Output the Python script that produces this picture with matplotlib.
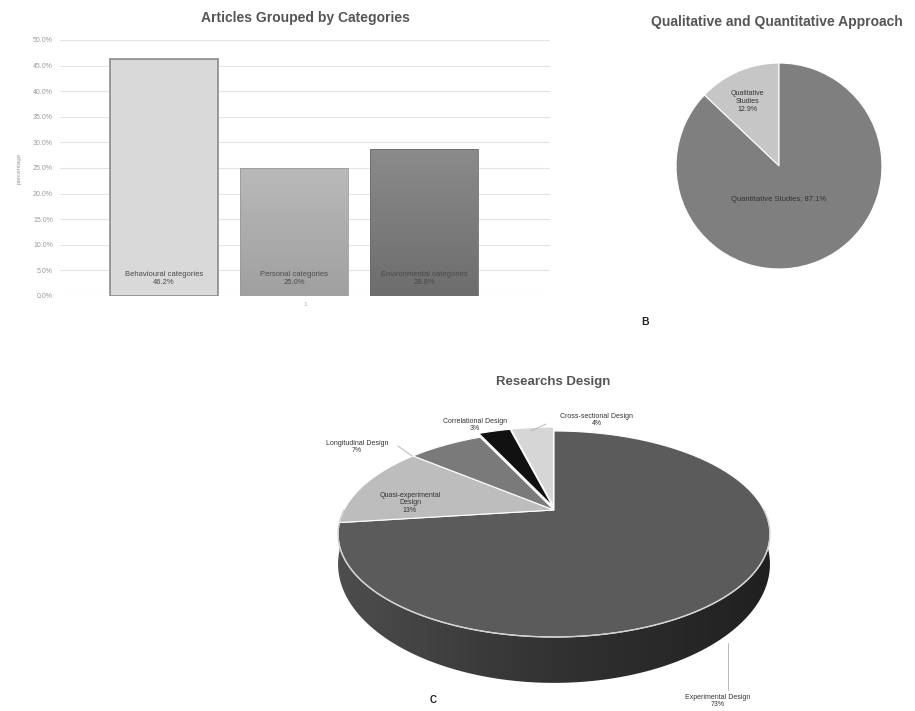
import numpy as np
import matplotlib
matplotlib.use("Agg")
import matplotlib.pyplot as plt
from matplotlib.colors import LinearSegmentedColormap

plt.rcParams["font.family"] = ["Liberation Sans", "DejaVu Sans"]

# --- datos ---
bar_categories = ["Behavioural categories", "Personal categories", "Environmental categories"]
bar_values = [46.2, 25.0, 28.8]
bar_ticks = [0, 5, 10, 15, 20, 25, 30, 35, 40, 45, 50]

approach_labels = ["Qualitative\nStudies", "Quantitative Studies;"]
approach_values = [12.9, 87.1]

design_labels = ["Experimental Design", "Quasi-experimental\nDesign", "Longitudinal Design",
                 "Correlational Design", "Cross-sectional Design"]
design_values = [73, 13, 7, 3, 4]

W, H = 915, 711


def box(x0, y0, x1, y1):
    # caja en pixeles -> coordenadas de figura
    return [x0 / W, 1 - y1 / H, (x1 - x0) / W, (y1 - y0) / H]


fig = plt.figure(figsize=(W / 100, H / 100), dpi=100)

# ---------------- A: barras ----------------
ax = fig.add_axes(box(60, 40, 550, 296))
xs = np.arange(len(bar_values))
bars = ax.bar(xs, bar_values, width=0.83, color="#d9d9d9", zorder=2)
bar_grads = [("#d9d9d9", "#d9d9d9"), ("#a0a0a0", "#b9b9b9"), ("#6d6d6d", "#8b8b8b")]
bar_edges = ["#8a8a8a", "#9a9a9a", "#6a6a6a"]
for b, (c0, c1), ec in zip(bars, bar_grads, bar_edges):
    x0 = b.get_x()
    cmap = LinearSegmentedColormap.from_list("g", [c0, c1])
    grad = np.linspace(0, 1, 100).reshape(-1, 1)
    im = ax.imshow(grad, extent=[x0, x0 + b.get_width(), 0, b.get_height()], origin="lower",
                   aspect="auto", cmap=cmap, zorder=2.5)
    im.set_clip_path(b)
    b.set_edgecolor(ec)
    b.set_linewidth(1.2 if ec == "#8a8a8a" else 0.6)
    b.set_zorder(3)
    b.set_facecolor("none")

for x, name, v in zip(xs, bar_categories, bar_values):
    ax.text(x, 3.4, f"{name}\n{v:.1f}%", ha="center", va="center", fontsize=5.5,
            color="#4a4a4a", linespacing=1.15, zorder=4)

ax.set_xlim(-0.8, 2.97)
ax.set_ylim(0, 50)
ax.set_yticks(bar_ticks)
ax.set_yticklabels([f"{t:.1f}%" for t in bar_ticks])
ax.set_xticks([])
ax.tick_params(axis="y", length=0, labelsize=5, labelcolor="#9a9a9a", pad=5)
for s in ax.spines.values():
    s.set_visible(False)
ax.yaxis.grid(True, color="#e4e4e4", lw=0.8)
ax.set_axisbelow(True)
ax.set_ylabel("percentage", fontsize=4.5, color="#9a9a9a", labelpad=8)
ax.set_xlabel("1", fontsize=4.5, color="#aaaaaa", labelpad=4)
ax.set_title("Articles Grouped by Categories", fontsize=10, fontweight="bold",
             color="#555555", pad=13)

# ---------------- B: pie 2D ----------------
axb = fig.add_axes(box(675, 62, 883, 270))
axb.pie(approach_values, startangle=90, counterclock=True, colors=["#c6c6c6", "#7f7f7f"],
        wedgeprops=dict(edgecolor="white", linewidth=0.8))
axb.set_xlim(-1.01, 1.01)
axb.set_ylim(-1.01, 1.01)
axb.text(-0.31, 0.63, f"{approach_labels[0]}\n{approach_values[0]}%", ha="center", va="center",
         fontsize=5, color="#333333", linespacing=1.2)
axb.text(0.0, -0.33, f"{approach_labels[1]} {approach_values[1]}%", ha="center", va="center",
         fontsize=5.5, color="#333333")
fig.text(777 / W, 1 - 22 / H, "Qualitative and Quantitative Approach", ha="center", va="center",
         fontsize=10, fontweight="bold", color="#555555")

# ---------------- C: pie 3D ----------------
axc = fig.add_axes([0, 0, 1, 1])
axc.axis("off")
axc.patch.set_visible(False)

CX, CY, A, B, K, DEPTH = 554, 510, 210, 97.4, 0.233, 27


def proj(phi, drop=0.0):
    u, v = np.cos(phi), np.sin(phi)
    s = 1.0 / (1.0 + K * v)
    return CX + A * u * s, CY - B * v * s + drop * s ** 2


top_colors = ["#5b5b5b", "#bdbdbd", "#7a7a7a", "#111111", "#d6d6d6"]
explode = [0, 0, 0, 4, 4]  # desplazamiento en pixeles
fracs = np.array(design_values) / sum(design_values)
bounds = np.deg2rad(90) - 2 * np.pi * np.concatenate([[0], np.cumsum(fracs)])

# paredes laterales (solo la parte de delante)
for i, col in enumerate(top_colors):
    ph = np.linspace(bounds[i], bounds[i + 1], 400)
    ph = ph[np.sin(ph) < 0]
    if len(ph) < 2:
        continue
    xt, yt = proj(ph)
    xb, yb = proj(ph, DEPTH)
    pts = list(zip(xt, yt)) + list(zip(xb[::-1], yb[::-1]))
    side = plt.Polygon(pts, closed=True, facecolor="none", edgecolor="none", zorder=1)
    axc.add_patch(side)
    base = np.array(matplotlib.colors.to_rgb(col))
    cmap = LinearSegmentedColormap.from_list("s", [base * 0.85, base * 0.55, base * 0.35])
    grad = np.linspace(0, 1, 256).reshape(1, -1)
    im = axc.imshow(grad, extent=[CX - 216, CX + 216, 700, 500], aspect="auto", cmap=cmap,
                    zorder=1)
    im.set_clip_path(side)

for i, col in enumerate(top_colors):
    ph = np.linspace(bounds[i], bounds[i + 1], 200)
    mid = 0.5 * (bounds[i] + bounds[i + 1])
    dx, dy = explode[i] * np.cos(mid), -explode[i] * np.sin(mid)
    x, y = proj(ph)
    pts = [(CX + dx, CY + dy)] + list(zip(x + dx, y + dy))
    axc.add_patch(plt.Polygon(pts, closed=True, facecolor=col, edgecolor="white",
                              linewidth=0.8, zorder=2))

# borde claro del frente
ph = np.linspace(np.pi, 2 * np.pi, 200)
x, y = proj(ph)
axc.plot(x, y, color="#d2d2d2", lw=1.0, zorder=3)

label_pos = [(718, 701), (410, 503), (357, 447), (475, 425), (597, 420)]
for name, v, (lx, ly) in zip(design_labels, design_values, label_pos):
    axc.text(lx, ly, f"{name}\n{v}%", ha="center", va="center", fontsize=5,
             color="#333333", linespacing=1.15, zorder=5)
axc.plot([728, 728], [690, 643], color="#b0b0b0", lw=0.6, zorder=4)
axc.plot([546, 531], [424, 431], color="#b0b0b0", lw=0.6, zorder=4)
axc.plot([398, 412], [446, 456], color="#b0b0b0", lw=0.6, zorder=4)

axc.text(553, 382, "Researchs Design", ha="center", va="center", fontsize=9.5,
         fontweight="bold", color="#555555")
axc.text(645, 322, "B", ha="center", va="center", fontsize=7.5, fontweight="bold", color="#222222")
axc.text(433, 700, "C", ha="center", va="center", fontsize=7, fontweight="bold", color="#222222")

axc.set_xlim(0, W)
axc.set_ylim(H, 0)

fig.savefig("out.png", dpi=100)
